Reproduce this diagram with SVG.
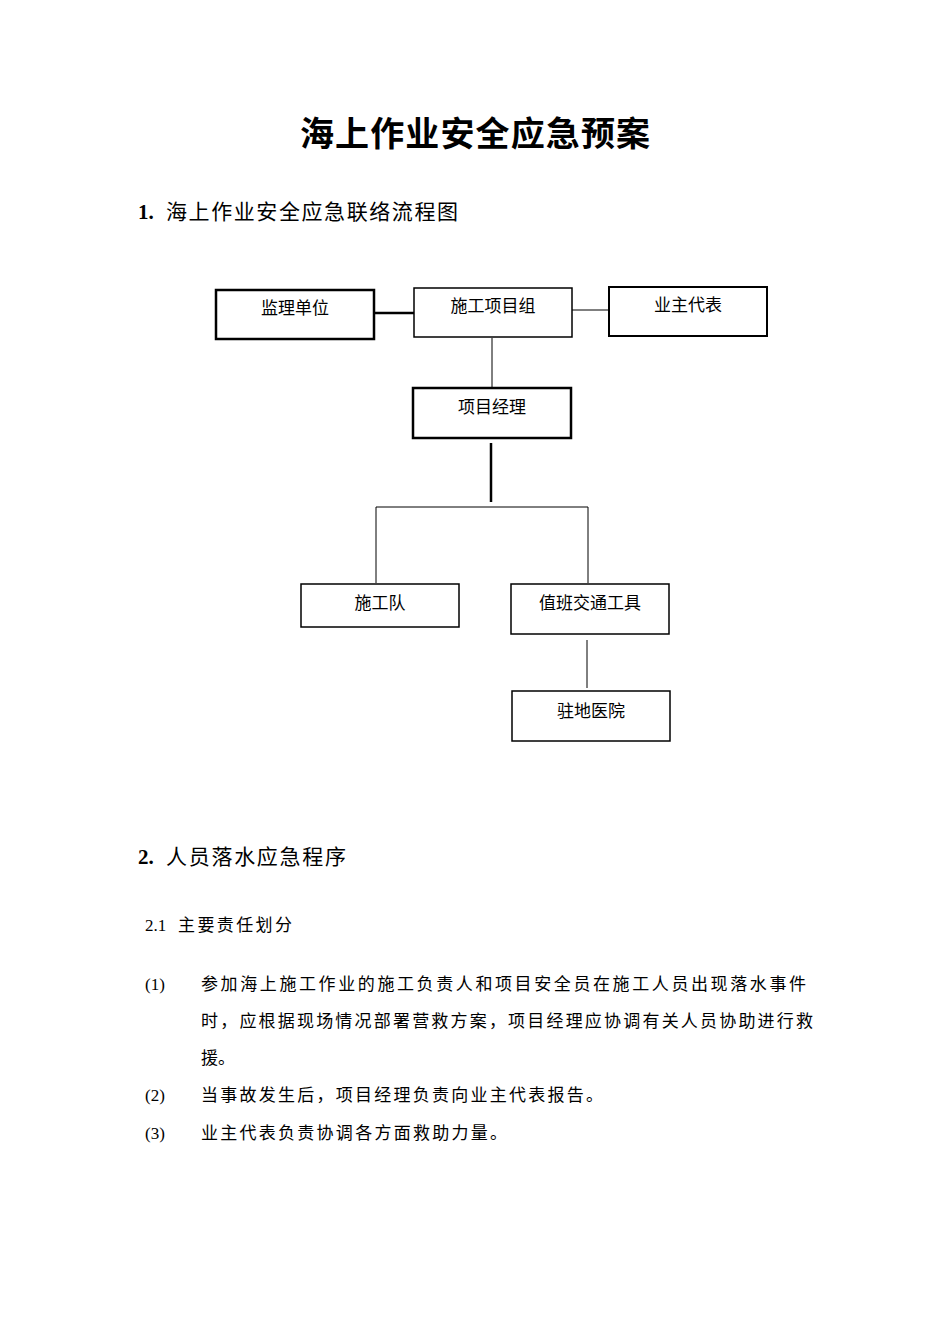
<svg xmlns="http://www.w3.org/2000/svg" width="950" height="1344" viewBox="0 0 950 1344">
<style>
.b{fill:#fff;stroke:#000}
.t{font-family:"Liberation Serif","Noto Sans CJK SC",serif;font-size:17px;fill:#000}
.h{font-family:"Liberation Serif","Noto Sans CJK SC",serif;font-size:21px;fill:#000}
.c{text-anchor:middle}
.l{stroke:#000;fill:none}
</style>
<rect width="950" height="1344" fill="#fff"/>
<text x="300" y="146" textLength="350" font-family="Noto Sans CJK SC,sans-serif" font-weight="bold" font-size="34">海上作业安全应急预案</text>
<text x="138" y="219" class="h" font-weight="bold">1.</text>
<text x="166" y="219" class="h" textLength="292">海上作业安全应急联络流程图</text>
<g id="connectors">
<line class="l" x1="374" y1="313" x2="414" y2="313" stroke-width="2.5"/>
<line class="l" x1="572" y1="310" x2="609" y2="310" stroke-width="1"/>
<line class="l" x1="492" y1="338" x2="492" y2="388" stroke-width="1"/>
<line class="l" x1="491" y1="443" x2="491" y2="502" stroke-width="2.5"/>
<polyline class="l" points="376,583 376,507 588,507 588,583" stroke-width="1"/>
<line class="l" x1="587" y1="640" x2="587" y2="688" stroke-width="1"/>
</g>
<g id="n1"><rect class="b" x="216" y="290" width="158" height="49" stroke-width="2.5"/><text class="t c" x="295" y="314">监理单位</text></g>
<g id="n2"><rect class="b" x="414" y="288" width="158" height="49" stroke-width="1.5"/><text class="t c" x="493" y="312">施工项目组</text></g>
<g id="n3"><rect class="b" x="609" y="287" width="158" height="49" stroke-width="2"/><text class="t c" x="688" y="311">业主代表</text></g>
<g id="n4"><rect class="b" x="413" y="388" width="158" height="50" stroke-width="2.5"/><text class="t c" x="492" y="413">项目经理</text></g>
<g id="n5"><rect class="b" x="301" y="584" width="158" height="43" stroke-width="1.5"/><text class="t c" x="380" y="609">施工队</text></g>
<g id="n6"><rect class="b" x="511" y="584" width="158" height="50" stroke-width="1.5"/><text class="t c" x="590" y="609">值班交通工具</text></g>
<g id="n7"><rect class="b" x="512" y="691" width="158" height="50" stroke-width="1.5"/><text class="t c" x="591" y="717">驻地医院</text></g>
<text x="138" y="864" class="h" font-weight="bold">2.</text>
<text x="166" y="864" class="h" textLength="180">人员落水应急程序</text>
<text x="145" y="931" class="t">2.1</text>
<text x="178" y="931" class="t" textLength="114">主要责任划分</text>
<text x="145" y="990" class="t">(1)</text>
<text x="201" y="990" class="t" textLength="605">参加海上施工作业的施工负责人和项目安全员在施工人员出现落水事件</text>
<text x="201" y="1027" class="t" textLength="612">时，应根据现场情况部署营救方案，项目经理应协调有关人员协助进行救</text>
<text x="201" y="1064" class="t">援。</text>
<text x="145" y="1101" class="t">(2)</text>
<text x="201" y="1101" class="t" textLength="402">当事故发生后，项目经理负责向业主代表报告。</text>
<text x="145" y="1139" class="t">(3)</text>
<text x="201" y="1139" class="t" textLength="306">业主代表负责协调各方面救助力量。</text>
</svg>
